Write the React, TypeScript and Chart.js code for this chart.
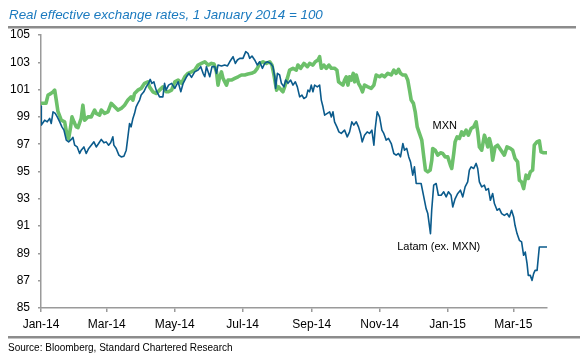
import React, { useEffect, useRef } from "react";
import { Chart, registerables } from "chart.js";

Chart.register(...registerables);

const TITLE = "Real effective exchange rates, 1 January 2014 = 100";
const SOURCE = "Source: Bloomberg, Standard Chartered Research";

// x tick positions in days since 1 Jan 2014
const tickDays = [0, 59, 120, 181, 243, 304, 365, 424];
const tickLabels = ["Jan-14", "Mar-14", "May-14", "Jul-14", "Sep-14", "Nov-14", "Jan-15", "Mar-15"];

// MXN (days since 1 Jan 2014, index value)
const mxnDays = [0, 4.5, 6.3, 8.7, 10.8, 12.3, 13.7, 15.2, 18.2, 21.2, 23.6, 24.8, 26.6, 27.8, 29.6, 31.6, 33.2, 36.1, 37.6, 39.2, 42.1, 45.1, 48.1, 49.6, 52.6, 54.1, 57.1, 60.1, 63, 66.1, 69, 72, 75, 78, 80.9, 82.5, 84, 86.9, 89.9, 93, 95.9, 97.4, 100.4, 103.4, 106.4, 109.4, 112.3, 114.1, 117.2, 120.1, 123.1, 126.1, 129.1, 132, 135.1, 138, 141, 144, 147, 150, 153, 155.3, 157.5, 158.9, 160.4, 162, 163.4, 166.5, 167.9, 170.9, 173.9, 176.9, 179.9, 182.9, 185.8, 188.9, 191.8, 194.2, 196.3, 199.3, 202.3, 205.3, 207.3, 209.1, 210.4, 211.5, 213.3, 215.8, 217.2, 218.7, 221.1, 223.2, 226.2, 229.2, 230.6, 233.1, 236, 239.1, 241.1, 244.1, 246.2, 248.6, 250.1, 251.6, 253.9, 256.1, 258.4, 260.6, 263.5, 265.6, 267.1, 268.9, 271, 272.5, 274, 275.5, 277, 278.5, 280.3, 281.5, 283, 285, 286.8, 288.6, 290.4, 293.4, 296.4, 298.8, 300.9, 303.9, 306, 308.4, 311.3, 314.4, 316.7, 318.8, 320.9, 322.7, 324.8, 327.2, 329.2, 330.8, 332.3, 334.3, 335.9, 337.7, 339.7, 341.8, 343.6, 345.1, 347.2, 349.3, 350.8, 351.6, 353.8, 356.1, 358.6, 360.6, 362.8, 365.1, 367.5, 368.7, 370.5, 371.7, 373.5, 375.6, 377.6, 379.4, 381.6, 383.6, 386.1, 388.4, 390.6, 392, 393.5, 395.6, 398, 399.5, 401, 402.5, 404, 405.4, 407.6, 409.9, 412.9, 415.9, 418.3, 421.3, 423.4, 425.5, 427.8, 429.4, 431.4, 433.2, 435.4, 437.4, 439.2, 441.3, 442.8, 445.2, 447.3, 448.8, 451.1, 454.2];
const mxnValues = [100.0, 100.0, 100.6, 100.7, 100.84, 100.96, 100.23, 99.4, 98.76, 98.64, 97.54, 97.4, 98.27, 99.0, 98.64, 98.27, 98.22, 98.9, 99.86, 98.76, 99.0, 99.0, 99.5, 99.26, 99.13, 99.5, 99.26, 99.37, 99.99, 99.74, 99.5, 99.62, 99.86, 100.23, 100.47, 100.23, 100.72, 100.96, 101.09, 101.46, 101.57, 101.2, 100.84, 100.72, 100.96, 101.2, 100.84, 100.84, 100.96, 101.57, 101.7, 101.46, 101.94, 102.19, 102.3, 102.43, 102.8, 102.92, 103.04, 102.8, 102.92, 102.87, 102.3, 101.33, 101.94, 102.3, 101.82, 101.33, 101.7, 101.7, 101.82, 101.94, 102.07, 102.07, 102.14, 102.19, 102.3, 102.56, 102.92, 103.04, 102.92, 103.04, 102.8, 102.07, 101.46, 100.96, 101.2, 100.96, 100.84, 101.2, 101.82, 102.43, 102.56, 102.43, 102.8, 102.56, 102.92, 102.68, 102.92, 102.8, 103.04, 103.17, 103.41, 102.56, 102.8, 102.56, 102.8, 102.56, 102.56, 102.43, 101.57, 101.46, 101.33, 101.7, 101.94, 101.33, 101.94, 101.7, 102.19, 101.57, 102.07, 101.46, 101.2, 100.84, 101.33, 101.2, 101.09, 101.33, 102.07, 101.94, 102.07, 101.94, 102.19, 102.07, 102.43, 102.19, 102.48, 102.19, 102.07, 102.07, 101.7, 100.96, 100.23, 99.99, 99.37, 98.27, 97.79, 97.3, 96.07, 95.1, 94.97, 95.1, 95.83, 96.69, 96.56, 96.2, 96.37, 96.32, 96.07, 96.07, 95.46, 95.22, 96.32, 97.17, 97.54, 97.42, 97.9, 97.66, 98.03, 97.66, 98.15, 98.27, 98.64, 97.9, 96.8, 96.56, 97.66, 97.3, 96.8, 97.42, 96.93, 95.83, 96.8, 96.93, 96.56, 96.2, 96.8, 96.69, 96.56, 95.95, 95.7, 94.36, 94.24, 93.75, 94.73, 94.49, 94.97, 95.1, 96.93, 97.17, 97.25, 96.44, 96.37, 96.37];

// Latam ex. MXN (days since 1 Jan 2014, index value)
const latamDays = [0, 0.3, 3.3, 5.6, 7.8, 9.2, 10.8, 12.8, 14.6, 16.8, 18.8, 20.6, 22.7, 24.8, 27.2, 28.7, 30.2, 32.5, 34.7, 36.1, 38.5, 40.6, 42.8, 45.1, 47.5, 49.6, 51.7, 54.1, 56.5, 58.5, 60.7, 62.5, 64.5, 65.4, 67.5, 69.9, 72, 74.4, 76.5, 78, 79.5, 80.9, 82.5, 84, 85.4, 86.9, 88.5, 89.9, 92.3, 94.4, 96.5, 98, 99.5, 101.3, 103.4, 106.4, 109.4, 110.9, 112.3, 114.5, 117.2, 120.1, 123.1, 125.5, 127.6, 130.6, 132.7, 135.1, 138, 141, 143.4, 145.5, 147, 148.5, 151.5, 153.5, 156, 157.5, 158.9, 162, 164.9, 167.4, 169.4, 172.4, 174.5, 176.3, 178.4, 181.3, 183.8, 185.8, 187.3, 189.4, 191.8, 194.2, 196.3, 198.7, 200.8, 203.2, 206.2, 208.2, 209.8, 210.6, 212.2, 214.2, 215.8, 218.1, 219.6, 221.7, 224.1, 226.2, 228.3, 230.1, 232.2, 234.2, 236, 238.2, 239.6, 241.1, 242.6, 244.1, 245.6, 248, 250.1, 251.6, 253.1, 254.6, 257, 259.1, 260.6, 262.1, 263.5, 265.6, 267.4, 269.5, 272.5, 274.9, 277, 279, 280.8, 283, 285, 286.8, 288.3, 290.4, 292.8, 294.9, 297, 298.8, 300, 301.8, 303.9, 306, 307.7, 309.9, 311.9, 314.4, 316.7, 318.8, 320.9, 322.7, 324.8, 326.3, 328.3, 330.1, 331.7, 333.7, 335.2, 336.8, 341.2, 343.6, 345.7, 347.2, 349.6, 350.7, 352.5, 354.7, 356.7, 359.2, 361.5, 363.7, 365.7, 368.1, 369.6, 371.7, 374.1, 376.5, 378.6, 380.7, 383, 384.5, 386.1, 388.4, 390.6, 392, 393.5, 395.6, 398, 399.5, 401.6, 403.4, 405.4, 407, 409.4, 411.4, 413.5, 415.9, 418.3, 420.4, 422.4, 424.3, 425.5, 427.3, 429.4, 431.4, 433.2, 434.7, 436.3, 437.4, 439.2, 440.8, 442.2, 443.5, 445.3, 447.3, 454.2];
const latamValues = [99.8, 98.4, 98.76, 98.64, 98.89, 98.52, 99.37, 99.26, 99.0, 98.64, 98.27, 98.03, 97.3, 97.17, 97.35, 97.5, 96.93, 96.8, 96.32, 96.56, 96.8, 96.32, 96.69, 96.93, 97.17, 96.8, 97.05, 97.35, 97.1, 97.17, 96.93, 97.1, 97.54, 96.93, 96.69, 96.2, 96.07, 96.12, 96.56, 97.54, 98.52, 98.27, 98.89, 99.26, 99.74, 99.99, 100.23, 100.6, 100.84, 101.2, 101.46, 101.75, 101.46, 101.57, 100.96, 100.47, 100.47, 101.46, 100.96, 101.33, 101.46, 101.09, 101.57, 100.84, 101.46, 101.94, 102.19, 101.9, 102.3, 102.43, 102.68, 102.19, 101.94, 102.68, 101.94, 102.68, 102.68, 102.19, 102.8, 102.73, 102.8, 102.73, 103.04, 103.41, 102.92, 103.17, 103.29, 103.29, 103.78, 103.66, 103.29, 103.46, 103.17, 102.8, 103.04, 102.56, 102.92, 103.04, 102.92, 102.68, 101.94, 101.09, 102.19, 102.07, 101.46, 101.2, 101.7, 101.46, 101.7, 101.33, 101.57, 101.2, 100.47, 100.6, 100.35, 100.47, 100.96, 100.84, 101.33, 100.84, 101.33, 101.2, 101.33, 100.23, 99.74, 99.13, 99.26, 99.37, 99.0, 99.37, 98.64, 98.27, 97.9, 97.79, 98.03, 97.54, 97.9, 98.64, 98.4, 98.64, 98.27, 97.79, 97.17, 97.66, 97.9, 97.79, 98.03, 96.93, 98.15, 99.37, 99.0, 98.03, 97.79, 97.3, 97.42, 97.05, 96.32, 96.2, 96.32, 96.07, 97.05, 96.56, 96.69, 96.07, 95.7, 94.73, 95.34, 94.12, 94.12, 93.14, 92.28, 91.92, 90.45, 92.16, 94.0, 94.12, 93.26, 93.26, 93.51, 93.14, 93.51, 93.26, 92.4, 93.0, 93.39, 93.63, 93.14, 93.87, 94.24, 95.1, 95.34, 95.22, 95.59, 95.22, 94.24, 93.87, 94.0, 93.63, 93.75, 92.89, 93.39, 92.65, 92.16, 92.28, 91.92, 91.79, 91.92, 91.67, 92.16, 91.67, 91.06, 90.45, 89.96, 89.84, 88.86, 89.1, 88.25, 87.39, 87.39, 87.02, 87.52, 87.76, 87.76, 89.47, 89.47];

const FONT = '"Liberation Sans", Arial, Helvetica, sans-serif';
const AXIS_COLOR = "#9a9a9a";

const decorPlugin = {
  id: "decor",
  beforeDraw(chart: any) {
    const ctx = chart.ctx;
    ctx.save();
    ctx.fillStyle = "#ffffff";
    ctx.fillRect(0, 0, chart.width, chart.height);
    ctx.restore();
  },
  afterDraw(chart: any) {
    const ctx = chart.ctx;
    const xs = chart.scales.x;
    const ys = chart.scales.y;
    ctx.save();
    ctx.textAlign = "left";
    ctx.textBaseline = "alphabetic";
    ctx.font = `italic 13.4px ${FONT}`;
    ctx.fillStyle = "#1b7abf";
    ctx.fillText(TITLE, 9, 19);
    ctx.fillStyle = "#8c8c8c";
    ctx.fillRect(8, 26, 568, 2.5);
    ctx.fillRect(8, 336, 572, 2.5);
    ctx.fillStyle = "#000000";
    ctx.font = `10px ${FONT}`;
    ctx.fillText(SOURCE, 8, 351);
    ctx.font = `11px ${FONT}`;
    ctx.textAlign = "center";
    ctx.textBaseline = "middle";
    ctx.fillText("MXN", xs.getPixelForValue(362.5), ys.getPixelForValue(98.3));
    ctx.fillText("Latam (ex. MXN)", xs.getPixelForValue(357), ys.getPixelForValue(89.45));
    ctx.restore();
  },
};

export default function App() {
  const ref = useRef<HTMLCanvasElement>(null);
  useEffect(() => {
    if (!ref.current) return;
    const mxn = mxnDays.map((d, i) => ({ x: d, y: mxnValues[i] }));
    const latam = latamDays.map((d, i) => ({ x: d, y: latamValues[i] }));
    const chart = new Chart(ref.current, {
      type: "line",
      data: {
        datasets: [
          {
            label: "Latam (ex. MXN)",
            data: latam,
            borderColor: "#0b5b8c",
            borderWidth: 1.6,
            pointRadius: 0,
            tension: 0,
            order: 0,
            borderJoinStyle: "round",
          },
          {
            label: "MXN",
            data: mxn,
            borderColor: "#6cc06a",
            borderWidth: 3.6,
            pointRadius: 0,
            tension: 0,
            order: 1,
            borderJoinStyle: "round",
          },
        ],
      },
      options: {
        responsive: false,
        devicePixelRatio: 1,
        animation: false,
        layout: { padding: { left: 0, right: 33, top: 35, bottom: 0 } },
        plugins: { legend: { display: false }, tooltip: { enabled: false }, title: { display: false } },
        scales: {
          x: {
            type: "linear",
            min: 0,
            max: 454.2,
            afterBuildTicks: (scale: any) => {
              scale.ticks = tickDays.map((v) => ({ value: v }));
            },
            afterFit: (scale: any) => {
              scale.height = 51;
            },
            ticks: {
              autoSkip: false,
              maxRotation: 0,
              padding: 5,
              color: "#000",
              font: { family: FONT, size: 12 },
              callback: (value: any) => {
                const i = tickDays.indexOf(Number(value));
                return i >= 0 ? tickLabels[i] : "";
              },
            },
            grid: { drawOnChartArea: false, drawTicks: true, tickLength: 4, color: AXIS_COLOR, lineWidth: 1.5 },
            border: { display: true, color: AXIS_COLOR, width: 1.5 },
          },
          y: {
            min: 85,
            max: 105,
            afterFit: (scale: any) => {
              scale.width = 41;
            },
            ticks: {
              stepSize: 2,
              padding: 8,
              color: "#000",
              font: { family: FONT, size: 12 },
            },
            grid: { drawOnChartArea: false, drawTicks: true, tickLength: 3, color: AXIS_COLOR, lineWidth: 1.5 },
            border: { display: true, color: AXIS_COLOR, width: 1.5 },
          },
        },
      },
      plugins: [decorPlugin],
    } as any);
    return () => chart.destroy();
  }, []);
  return (
    <div style={{ position: "fixed", left: 0, top: 0, width: 580, height: 359, background: "#fff" }}>
      <canvas ref={ref} width={580} height={359} style={{ display: "block", width: 580, height: 359 }} />
    </div>
  );
}
